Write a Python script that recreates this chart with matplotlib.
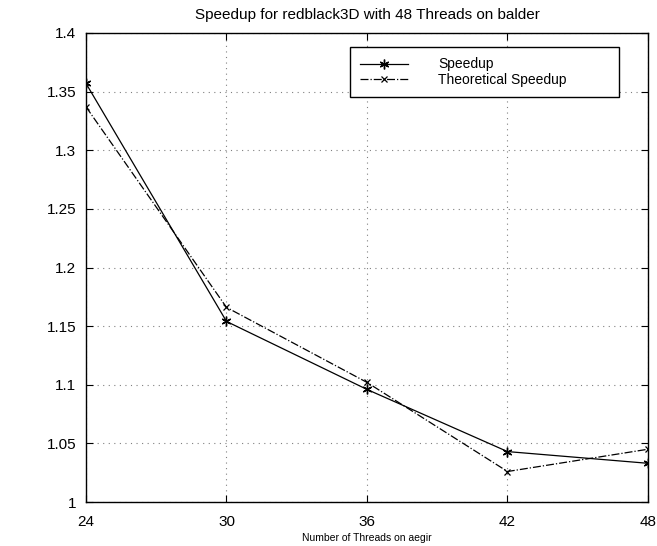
import matplotlib
matplotlib.use("Agg")
import matplotlib.pyplot as plt

threads = [24, 30, 36, 42, 48]
speedup = [1.357, 1.154, 1.096, 1.043, 1.033]
theoretical = [1.337, 1.166, 1.102, 1.026, 1.045]
xticks = [24, 30, 36, 42, 48]
yticks = [1, 1.05, 1.1, 1.15, 1.2, 1.25, 1.3, 1.35, 1.4]
ytick_labels = ["1", "1.05", "1.1", "1.15", "1.2", "1.25", "1.3", "1.35", "1.4"]

plt.rcParams['font.family'] = ['Liberation Sans', 'DejaVu Sans']

fig = plt.figure(figsize=(6.57, 5.46), dpi=100)
ax = fig.add_axes([86/657, 1 - 502/546, (648-86)/657, (502-33)/546])

ax.plot(threads, speedup, color='black', linestyle='-', linewidth=0.9,
        marker=(6, 2, 0), markersize=7, markeredgewidth=1.0, label='Speedup')
ax.plot(threads, theoretical, color='black', linestyle='-.', linewidth=0.9,
        marker='x', markersize=5, markeredgewidth=0.9, label='Theoretical Speedup')

ax.set_xlim(24, 48)
ax.set_ylim(1, 1.4)
ax.set_xticks(xticks)
ax.set_yticks(yticks)
ax.set_yticklabels(ytick_labels)
ax.tick_params(direction='in', top=True, right=True, labelsize=11, length=5)
ax.tick_params(axis='x', pad=9)
ax.tick_params(axis='y', pad=7)
ax.grid(True, linestyle=(0, (1, 4)), color='gray', linewidth=0.8)
for s in ax.spines.values():
    s.set_linewidth(1.0)

ax.set_title('Speedup for redblack3D with 48 Threads on balder', fontsize=11, pad=10)
ax.set_xlabel('Number of Threads on aegir', fontsize=7.5, labelpad=3)

x0 = (350 - 86) / 562
w = (619 - 350) / 562
leg = ax.legend(loc='upper left', bbox_to_anchor=(x0, 0.0, w, 0.970), mode='expand',
                fontsize=10, fancybox=False, edgecolor='black', framealpha=1,
                handlelength=3.4, borderpad=0.75, labelspacing=0.1, handletextpad=2.2,
                borderaxespad=0)
leg.get_frame().set_linewidth(1.0)

fig.savefig('out.png', dpi=100)
